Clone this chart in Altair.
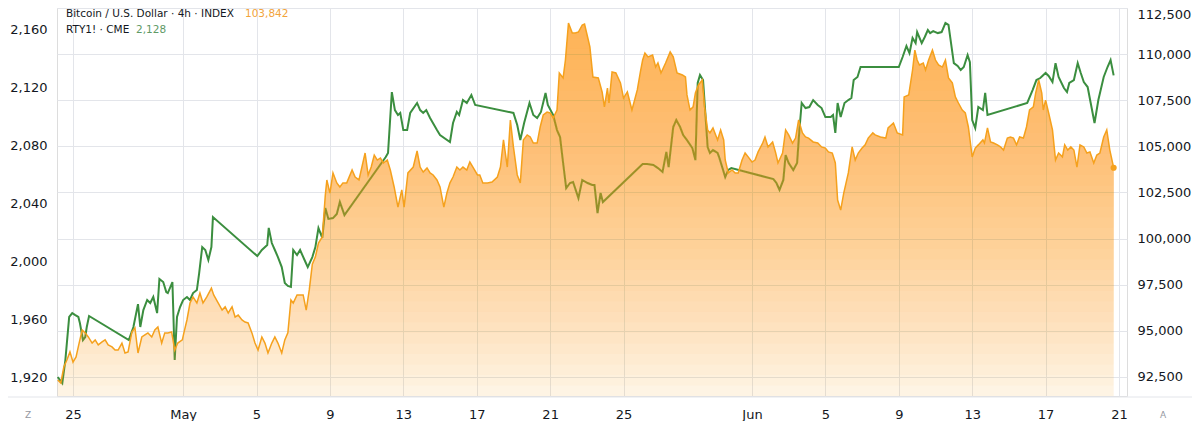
import altair as alt
import pandas as pd

# ---------------- data ----------------
START_MS = 1745452800000  # 2025-04-24T00:00:00Z
HOUR_MS = 3600000

# Bitcoin / U.S. Dollar, hours since 2025-04-24 00:00 UTC
btc_hours = [
    4, 8, 12, 16, 20, 24, 28, 32, 36, 40,
    44, 49, 53, 57, 62, 66, 70, 75, 79, 83,
    88, 92, 96, 101, 105, 109, 114, 118, 122, 127,
    131, 135, 140, 144, 148, 153, 157, 161, 167, 169,
    173, 177, 181, 186, 190, 194, 199, 205, 208, 214,
    219, 223, 227, 232, 236, 240, 245, 249, 253, 258,
    262, 266, 271, 275, 279, 284, 288, 292, 297, 301,
    305, 309, 312, 317, 321, 325, 329, 333, 337, 341,
    345, 350, 354, 356, 360, 364, 369, 373, 377, 382,
    389, 393, 398, 406, 410, 414, 418, 422, 426, 430,
    435, 439, 444, 449, 454, 457, 462, 469, 474, 478,
    482, 487, 491, 495, 500, 504, 509, 513, 517, 521,
    526, 530, 534, 539, 543, 547, 553, 556, 560, 566,
    572, 579, 583, 587, 592, 596, 600, 605, 609, 613,
    618, 622, 626, 631, 635, 639, 644, 648, 652, 657,
    660, 665, 668, 672, 677, 681, 685, 690, 693, 697,
    700, 704, 711, 716, 719, 723, 725, 729, 734, 740,
    744, 749, 755, 762, 766, 769, 772, 776, 782, 786,
    789, 793, 799, 805, 809, 814, 821, 825, 827, 831,
    835, 838, 842, 847, 850, 854, 857, 861, 867, 871,
    875, 877, 881, 886, 890, 894, 899, 903, 907, 912,
    916, 920, 926, 929, 933, 939, 943, 946, 952, 956,
    960, 965, 969, 973, 978, 982, 986, 992, 998, 1003,
    1008, 1012, 1017, 1021, 1024, 1028, 1032, 1038, 1043, 1047,
    1051, 1056, 1060, 1064, 1070, 1073, 1080, 1087, 1090, 1097,
    1102, 1109, 1111, 1117, 1122, 1125, 1128, 1131, 1136, 1139,
    1143, 1148, 1152, 1156, 1161, 1165, 1169, 1174, 1178, 1182,
    1187, 1191, 1195, 1200, 1204, 1208, 1214, 1216, 1220, 1224,
    1228, 1233, 1237, 1241, 1246, 1250, 1254, 1258, 1262, 1267,
    1271, 1275, 1280, 1283, 1287, 1291, 1293, 1296, 1300, 1305,
    1309, 1313, 1318, 1321, 1325, 1329, 1333, 1337, 1341, 1346,
    1350, 1354, 1359, 1363, 1367, 1372, 1376, 1380, 1385,
]
btc_close = [
    92340, 92180, 93040, 93420, 93860, 93310, 93590, 94340, 95050, 94890,
    94670, 94340, 94510, 94240, 94400, 94510, 94240, 94130, 93960, 93960,
    94340, 93800, 93860, 94940, 95160, 93800, 94670, 94780, 94890, 94670,
    95050, 95210, 94340, 94890, 94890, 94940, 93960, 94340, 94510, 94890,
    95590, 96510, 96840, 96510, 97050, 96510, 96840, 97320, 96950, 96510,
    96130, 96300, 95970, 96300, 95750, 95860, 95590, 95480, 95430, 94890,
    94340, 93960, 94670, 94340, 93800, 94340, 94670, 94340, 93800, 94510,
    94890, 96670, 96510, 96950, 96950, 96950, 96130, 97220, 98610, 99010,
    99760, 100090, 102370, 103180, 102470, 103560, 103020, 102800, 103020, 103020,
    103720, 103340, 103180, 104640, 103450, 103880, 104530, 104260, 104370, 104100,
    104260, 103720, 102800, 101710, 102640, 101710, 103560, 103880, 104750, 103880,
    103610, 103830, 103560, 103450, 103180, 102800, 101710, 102470, 103020, 103340,
    103880, 103720, 103880, 103720, 104150, 103880, 103450, 103450, 103020, 103020,
    103070, 103340, 103880, 105350, 103880, 106430, 104970, 103450, 103020, 105350,
    105620, 105510, 105180, 105180, 106050, 106700, 106860, 106810, 106540, 106970,
    108980, 108710, 109680, 111690, 111150, 111150, 111200, 111580, 111630, 110930,
    110390, 108760, 108710, 107950, 107140, 108160, 107350, 109030, 108980, 108440,
    107620, 107950, 106970, 108060, 109030, 109680, 110060, 109850, 109950, 109300,
    109520, 108980, 109520, 110120, 109850, 108980, 108870, 108760, 107790, 106970,
    107140, 107890, 108330, 108600, 107140, 105890, 105730, 106000, 105350, 105890,
    105350, 104260, 103560, 103720, 103560, 103560, 104260, 104640, 104430, 104150,
    104260, 104700, 105180, 105510, 104970, 105240, 104640, 104100, 104640, 105890,
    105620, 105180, 105450, 106430, 105730, 105510, 105450, 105240, 105180, 104970,
    104910, 104700, 104640, 104100, 102090, 101550, 102470, 103560, 104970, 104260,
    104640, 104910, 105080, 105450, 105730, 105620, 105510, 105450, 106000, 106270,
    105730, 105620, 107680, 107790, 109140, 110220, 109680, 109410, 109520, 109140,
    109680, 110220, 109680, 109410, 109300, 109680, 108710, 108440, 107680, 107350,
    106970, 106810, 106050, 104430, 104910, 105080, 105350, 105180, 106000, 105240,
    105180, 105080, 104970, 104800, 105450, 105510, 105450, 105080, 105510, 105450,
    106050, 106970, 107140, 107890, 108600, 107890, 106970, 107510, 106810, 105890,
    104260, 104640, 104430, 105080, 104800, 104970, 104800, 103880, 105080, 104970,
    104640, 104700, 104100, 104530, 104640, 105510, 105890, 104800, 103842,
]

# RTY1! (CME), hours since 2025-04-24 00:00 UTC
rty_hours = [
    4, 10, 14, 19, 23, 27, 31, 33, 37, 40,
    42, 45, 97, 103, 109, 112, 116, 121, 125, 129,
    134, 137, 142, 146, 148, 154, 155, 157, 160, 164,
    168, 173, 177, 181, 186, 189, 193, 197, 201, 205,
    207, 265, 271, 278, 280, 284, 288, 292, 297, 301,
    305, 309, 312, 317, 321, 328, 331, 337, 341, 345,
    350, 354, 358, 364, 369, 373, 379, 433, 436, 441,
    445, 449, 452, 456, 461, 465, 474, 478, 482, 486,
    491, 500, 504, 517, 521, 526, 529, 534, 539, 545,
    550, 600, 605, 609, 614, 621, 626, 631, 636, 642,
    645, 652, 657, 661, 665, 669, 674, 678, 685, 690,
    697, 703, 706, 710, 714, 717, 769, 775, 783, 789,
    795, 800, 803, 809, 813, 818, 822, 827, 834, 838,
    841, 844, 848, 851, 854, 857, 861, 867, 869, 873,
    877, 881, 885, 940, 944, 948, 953, 956, 960, 966,
    971, 974, 977, 982, 987, 992, 998, 1003, 1008, 1015,
    1018, 1021, 1024, 1028, 1033, 1038, 1042, 1045, 1050, 1054,
    1104, 1109, 1114, 1118, 1122, 1126, 1128, 1134, 1138, 1142,
    1145, 1149, 1155, 1160, 1165, 1169, 1176, 1181, 1185, 1189,
    1194, 1197, 1200, 1204, 1208, 1214, 1217, 1220, 1272, 1279,
    1284, 1289, 1296, 1300, 1305, 1309, 1313, 1320, 1324, 1327,
    1333, 1338, 1342, 1346, 1351, 1355, 1360, 1365, 1372, 1377,
    1381, 1385,
]
rty_close = [
    1920.0, 1915.8, 1931.7, 1961.4, 1964.1, 1962.7, 1961.4, 1957.2, 1945.5, 1947.6,
    1954.5, 1962.1, 1945.5, 1954.5, 1970.3, 1954.5, 1966.2, 1973.1, 1971.0, 1975.2,
    1964.1, 1987.6, 1985.5, 1978.6, 1977.9, 1985.5, 1968.3, 1931.7, 1961.4, 1968.3,
    1973.1, 1975.2, 1973.1, 1977.9, 1980.0, 1991.7, 2009.6, 2007.6, 2000.7, 2009.6,
    2030.3, 2003.4, 2007.6, 2011.0, 2022.8, 2012.4, 2007.6, 2002.7, 1995.8, 1984.8,
    1982.8, 1982.1, 2007.6, 2004.1, 2007.6, 1999.3, 1995.8, 2002.7, 2009.6, 2022.7,
    2015.9, 2036.5, 2029.0, 2029.6, 2032.4, 2040.7, 2031.7, 2071.7, 2074.5, 2116.5,
    2104.1, 2100.7, 2102.1, 2090.3, 2090.3, 2102.1, 2109.0, 2104.1, 2102.1, 2104.1,
    2098.6, 2090.3, 2086.9, 2082.1, 2095.2, 2102.8, 2100.7, 2111.0, 2109.0, 2114.5,
    2107.6, 2102.1, 2093.8, 2083.4, 2095.2, 2109.0, 2100.7, 2098.6, 2102.8, 2115.9,
    2107.6, 2100.7, 2090.3, 2085.5, 2067.6, 2050.3, 2053.8, 2054.5, 2043.4, 2055.9,
    2053.8, 2052.4, 2052.4, 2033.1, 2046.9, 2040.7, 2066.9, 2066.9, 2066.2, 2064.1,
    2061.4, 2075.2, 2064.8, 2092.4, 2097.2, 2092.4, 2086.9, 2083.4, 2077.9, 2069.6,
    2122.8, 2128.3, 2124.8, 2102.1, 2078.6, 2074.5, 2076.5, 2074.5, 2071.7, 2064.8,
    2057.9, 2062.8, 2064.1, 2056.5, 2053.8, 2049.0, 2055.9, 2073.1, 2067.6, 2062.8,
    2067.6, 2090.3, 2109.0, 2105.5, 2106.2, 2111.0, 2107.6, 2105.5, 2099.3, 2099.3,
    2100.7, 2088.3, 2109.0, 2099.3, 2109.0, 2111.0, 2112.4, 2124.8, 2126.9, 2133.8,
    2133.8, 2140.7, 2148.3, 2143.4, 2153.8, 2150.3, 2157.9, 2150.3, 2154.5, 2159.3,
    2157.2, 2158.6, 2157.2, 2157.9, 2164.1, 2162.8, 2136.5, 2134.5, 2131.7, 2133.8,
    2142.1, 2137.2, 2097.2, 2091.7, 2106.2, 2104.1, 2115.9, 2100.7, 2109.0, 2117.9,
    2124.8, 2126.2, 2129.7, 2127.6, 2123.4, 2136.5, 2126.9, 2119.3, 2116.5, 2122.8,
    2124.8, 2136.5, 2129.7, 2123.4, 2120.0, 2109.0, 2095.2, 2111.0, 2126.9, 2133.8,
    2138.6, 2128.0,
]

btc_ticks = [92500, 95000, 97500, 100000, 102500, 105000, 107500, 110000, 112500]
rty_ticks = [1920, 1960, 2000, 2040, 2080, 2120, 2160]
date_ticks = [(4, 25), (5, 1), (5, 5), (5, 9), (5, 13), (5, 17), (5, 21), (5, 25),
              (6, 1), (6, 5), (6, 9), (6, 13), (6, 17), (6, 21)]

legend_btc = "Bitcoin / U.S. Dollar · 4h · INDEX"
legend_btc_last = "103,842"
legend_rty = "RTY1! · CME"
legend_rty_last = "2,128"
corner_left = "Z"
corner_right = "A"

# ---------------- styling ----------------
FONT = "DejaVu Sans"
TXT = "#131722"
GRID = "#e3e5ea"
ORANGE = "#f5a11d"
FILL = "#f6a320"
GREEN = "#3b8e3f"
W, H = 1070, 388
BTC_DOMAIN = [91470, 112500]
RTY_DOMAIN = [1906.9, 2174.5]

btc = pd.DataFrame({"t": [START_MS + h * HOUR_MS for h in btc_hours], "v": btc_close})
rty = pd.DataFrame({"t": [START_MS + h * HOUR_MS for h in rty_hours], "r": rty_close})
last = btc.tail(1)

x_enc = alt.X(
    "t:T",
    title=None,
    scale=alt.Scale(
        type="utc",
        domain=[alt.DateTime(year=2025, month=4, date=24, hours=3, minutes=4, utc=True),
                alt.DateTime(year=2025, month=6, date=21, hours=10, minutes=28, utc=True)],
    ),
    axis=alt.Axis(
        values=[alt.DateTime(year=2025, month=m, date=d, utc=True) for m, d in date_ticks],
        labelExpr="utcdate(datum.value) == 1 ? utcFormat(datum.value, '%b') : utcFormat(datum.value, '%-d')",
        grid=True, gridColor=GRID, gridWidth=1,
        domain=False, ticks=False, labelPadding=12, labelFlush=False, labelOverlap=False,
        labelFont=FONT, labelFontSize=13, labelColor=TXT,
    ),
)

y_btc = alt.Y(
    "v:Q", title=None,
    scale=alt.Scale(domain=BTC_DOMAIN, zero=False, nice=False),
    axis=alt.Axis(
        orient="right", values=btc_ticks, format=",.0f", grid=True, gridColor=GRID,
        domain=False, ticks=False, labelPadding=10, labelFlush=True,
        labelFont=FONT, labelFontSize=13, labelColor=TXT,
    ),
)

y_rty = alt.Y(
    "r:Q", title=None,
    scale=alt.Scale(domain=RTY_DOMAIN, zero=False, nice=False),
    axis=alt.Axis(
        orient="left", values=rty_ticks, format=",.0f", grid=False,
        domain=False, ticks=False, labelPadding=10, labelFlush=False,
        labelFont=FONT, labelFontSize=13, labelColor=TXT,
    ),
)

green_line = alt.Chart(rty).mark_line(color=GREEN, strokeWidth=2, clip=True).encode(x=x_enc, y=y_rty)

# vertical fade of the area fill: a pale base plus thin translucent bands that
# accumulate towards the top of the price range
base_area = alt.Chart(btc).mark_area(color=FILL, opacity=0.12, clip=True).encode(x=x_enc, y=y_btc)
N_BANDS = 36
BAND_ALPHA = 0.032
band_layers = []
for i in range(N_BANDS):
    lvl = BTC_DOMAIN[0] + (112000 - BTC_DOMAIN[0]) * (i + 1) / N_BANDS
    band_layers.append(
        alt.Chart(btc)
        .transform_calculate(lo=f"min(datum.v, {lvl:.1f})")
        .mark_area(color=FILL, opacity=BAND_ALPHA, clip=True)
        .encode(x=x_enc, y=y_btc, y2="lo:Q")
    )

orange_line = alt.Chart(btc).mark_line(color=ORANGE, strokeWidth=1.5, clip=True).encode(x=x_enc, y=y_btc)
dot = alt.Chart(last).mark_circle(color=ORANGE, size=38, opacity=1).encode(x=x_enc, y=y_btc)

btc_layer = alt.layer(base_area, *band_layers, orange_line, dot)

def label(text, x, y, color, size=10.5, align="left"):
    return alt.Chart(pd.DataFrame({"s": [text]})).mark_text(
        font=FONT, fontSize=size, color=color, align=align, baseline="middle"
    ).encode(text="s:N", x=alt.value(x), y=alt.value(y))

texts = [
    label(legend_btc, 9, 6, TXT),
    label(legend_btc_last, 188, 6, "#f2a33a"),
    label(legend_rty, 9, 22, TXT),
    label(legend_rty_last, 79, 22, "#5f9a66"),
    label(corner_left, -29, 407, "#9598a1", size=9, align="center"),
    label(corner_right, 1106, 407, "#9598a1", size=9, align="center"),
]

bottom_rule = alt.Chart(pd.DataFrame({"k": [0]})).mark_rule(color=GRID, strokeWidth=1).encode(
    x=alt.value(-49), x2=alt.value(W + 65), y=alt.value(H + 1)
)

chart = alt.layer(green_line, btc_layer, bottom_rule, *texts).resolve_scale(y="independent").properties(
    width=W, height=H,
    padding={"left": 49, "top": 0, "right": 65, "bottom": 25},
    autosize=alt.AutoSizeParams(type="none"),
).configure_view(stroke=None).configure(background="white")

chart.save("out.html", embed_options={"renderer": "svg", "actions": False})
